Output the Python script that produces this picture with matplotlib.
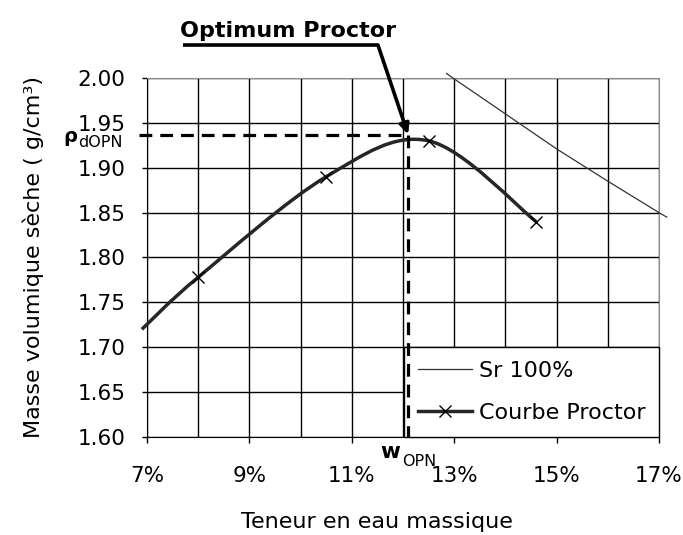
import matplotlib
matplotlib.use("Agg")
import matplotlib.pyplot as plt
from matplotlib.lines import Line2D
from matplotlib.path import Path
from matplotlib.patches import PathPatch

# Courbe Proctor : teneur en eau (%) et masse volumique sèche (g/cm3)
teneur_eau = [6.9, 8.0, 10.5, 12.5, 14.6]
densite_seche = [1.720, 1.778, 1.890, 1.930, 1.840]

# Courbe de saturation Sr = 100 %
sat_teneur = [12.85, 13.0, 14.0, 15.0, 16.0, 17.0, 17.15]
sat_densite = [2.005, 1.999, 1.960, 1.921, 1.885, 1.850, 1.845]

# Optimum Proctor
w_opn = 12.1
rho_opn = 1.937

x_ticks = [7, 9, 11, 13, 15, 17]
x_grid = [7, 8, 9, 10, 11, 12, 13, 14, 15, 16, 17]
y_ticks = [1.60, 1.65, 1.70, 1.75, 1.80, 1.85, 1.90, 1.95, 2.00]

COURBE = '#262626'


def courbe_lissee(xs, ys):
    # lissage type tableur (Bezier de Catmull-Rom)
    pts = list(zip(xs, ys))
    n = len(pts)
    verts = [pts[0]]
    codes = [Path.MOVETO]
    for i in range(n - 1):
        p0 = pts[max(i - 1, 0)]
        p1 = pts[i]
        p2 = pts[i + 1]
        p3 = pts[min(i + 2, n - 1)]
        c1 = (p1[0] + (p2[0] - p0[0]) / 6, p1[1] + (p2[1] - p0[1]) / 6)
        c2 = (p2[0] - (p3[0] - p1[0]) / 6, p2[1] - (p3[1] - p1[1]) / 6)
        verts += [c1, c2, p2]
        codes += [Path.CURVE4] * 3
    return Path(verts, codes)


fig = plt.figure(figsize=(6.83, 5.35), dpi=100)
ax = fig.add_axes([0.2152, 0.1832, 0.7497, 0.671])

ax.set_xlim(7, 17)
ax.set_ylim(1.60, 2.00)

# grille
ax.set_xticks(x_ticks)
ax.set_xticks(x_grid, minor=True)
ax.set_yticks(y_ticks)
ax.set_xticklabels([f"{t}%" for t in x_ticks])
ax.set_yticklabels([f"{t:.2f}" for t in y_ticks])
ax.grid(True, which='both', axis='x', color='black', lw=1.0)
ax.grid(True, which='major', axis='y', color='black', lw=1.0)
ax.tick_params(axis='x', which='major', direction='out', length=4.3, width=1,
               labelsize=15.5, pad=16.5)
ax.tick_params(axis='x', which='minor', length=0)
ax.tick_params(axis='y', direction='out', length=3.6, width=1,
               labelsize=15.5, pad=12)
for s in ['left', 'bottom']:
    ax.spines[s].set_color('black')
for s in ['top', 'right']:
    ax.spines[s].set_color('#8c8c8c')

# saturation
ax.plot(sat_teneur, sat_densite, color='#333333', lw=0.9, clip_on=False, zorder=3)

# courbe Proctor lissée + points
patch = PathPatch(courbe_lissee(teneur_eau, densite_seche), fill=False,
                  edgecolor=COURBE, lw=2.5, clip_on=False, zorder=4)
ax.add_patch(patch)
ax.plot(teneur_eau[1:], densite_seche[1:], 'x', color='black', ms=9, mew=1.0, zorder=4)

# légende
handles = [
    Line2D([], [], color='#333333', lw=0.9),
    Line2D([], [], color=COURBE, lw=2.5, marker='x', ms=9, mec='black', mew=1.0),
]
leg = ax.legend(handles, ['Sr 100%', 'Courbe Proctor'], loc='lower right',
                bbox_to_anchor=(1, 0), borderaxespad=0, fontsize=16,
                fancybox=False, framealpha=1, edgecolor='black',
                handlelength=2.4, handletextpad=0.32, labelspacing=1.0,
                borderpad=0.62, numpoints=1)
leg.get_frame().set_linewidth(1.0)
leg.set_zorder(5)

# lignes de l'optimum
ax.plot([6.85, w_opn], [rho_opn, rho_opn], color='black', lw=2.3,
        dashes=(4, 2.5), clip_on=False, zorder=6)
ax.plot([w_opn, w_opn], [rho_opn, 1.60], color='black', lw=2.3,
        dashes=(4, 2.5), zorder=6)

# flèche "Optimum Proctor"
ax.text(0.275, 1.114, 'Optimum Proctor', transform=ax.transAxes, ha='center',
        va='baseline', fontsize=16, fontweight='bold')
ax.plot([0.07, 0.451], [1.092, 1.092], transform=ax.transAxes, clip_on=False,
        color='black', lw=2.6, solid_capstyle='butt')
ax.annotate('', xy=(w_opn, rho_opn), xycoords='data', xytext=(0.451, 1.092),
            textcoords='axes fraction',
            arrowprops=dict(arrowstyle='-|>,head_length=0.6,head_width=0.28',
                            color='black', lw=2.6, shrinkA=0, shrinkB=0),
            zorder=7)

# étiquettes rho_dOPN et w_OPN
ax.text(-0.137, 0.8217, 'ρ', transform=ax.transAxes, ha='right', va='baseline',
        fontsize=14, fontweight='bold')
ax.text(-0.135, 0.808, 'dOPN', transform=ax.transAxes, ha='left', va='baseline',
        fontsize=11.5)
ax.text(0.494, -0.0585, 'w', transform=ax.transAxes, ha='right', va='baseline',
        fontsize=15.5, fontweight='bold')
ax.text(0.498, -0.0806, 'OPN', transform=ax.transAxes, ha='left', va='baseline',
        fontsize=11.5)

ax.set_xlabel('Teneur en eau massique', fontsize=16, labelpad=19)
ax.xaxis.label.set_x(0.449)
ax.set_ylabel('Masse volumique sèche ( g/cm³)', fontsize=16, labelpad=24)

fig.savefig('out.png', dpi=100, facecolor='white')
